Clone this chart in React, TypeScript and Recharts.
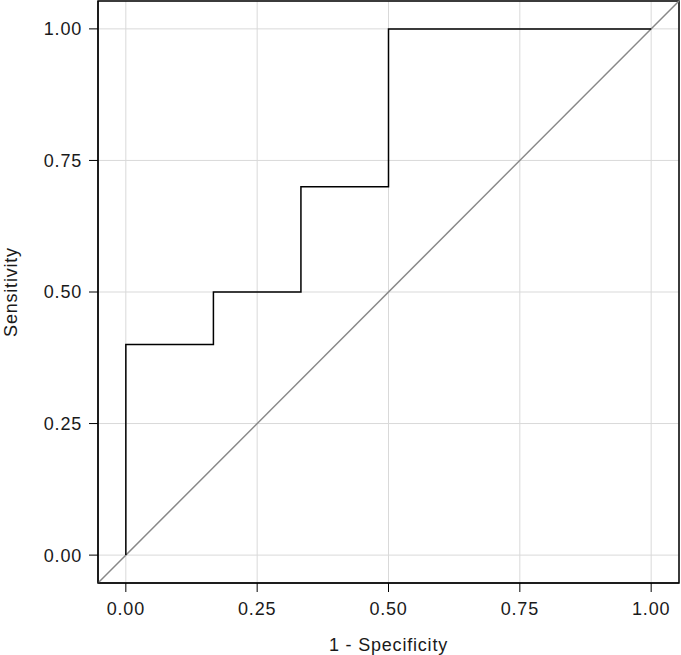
import {
  LineChart,
  Line,
  XAxis,
  YAxis,
  CartesianGrid,
  ReferenceLine,
  ReferenceArea,
  Label,
} from "recharts";

/* ---------------- ROC data ---------------- */

const FPR = [0, 0, 0.1667, 0.1667, 0.3333, 0.3333, 0.5, 0.5, 1];
const TPR = [0, 0.4, 0.4, 0.5, 0.5, 0.7, 0.7, 1, 1];
const TICKS = [0, 0.25, 0.5, 0.75, 1];

const rocData = FPR.map((x, i) => ({ x, y: TPR[i] }));

const FONT = "'Liberation Sans', Arial, sans-serif";
const textStyle = { fontSize: 18, fill: "#1a1a1a", fontFamily: FONT, letterSpacing: 0.8 };

export default function App() {
  return (
    <div style={{ position: "absolute", left: 0, top: 0, background: "#fff" }}>
      <LineChart
        width={681}
        height={655}
        data={rocData}
        margin={{ top: 1, right: 2, left: 0, bottom: 0 }}
      >
        <CartesianGrid stroke="#d9d9d9" strokeWidth={1} />
        <XAxis
          type="number"
          dataKey="x"
          domain={[-0.053, 1.053]}
          ticks={TICKS}
          tickFormatter={(v: number) => v.toFixed(2)}
          tick={textStyle}
          tickSize={9}
          tickMargin={10}
          stroke="#000"
          height={72}
        >
          <Label
            value="1 - Specificity"
            position="insideBottom"
            offset={4}
            style={textStyle}
          />
        </XAxis>
        <YAxis
          type="number"
          dataKey="y"
          domain={[-0.053, 1.053]}
          ticks={TICKS}
          tickFormatter={(v: number) => v.toFixed(2)}
          tick={textStyle}
          tickSize={9}
          tickMargin={7}
          stroke="#000"
          width={98}
        >
          <Label
            value="Sensitivity"
            angle={-90}
            position="insideLeft"
            offset={11}
            style={{ ...textStyle, textAnchor: "middle" }}
          />
        </YAxis>
        <ReferenceLine
          segment={[
            { x: -0.053, y: -0.053 },
            { x: 1.053, y: 1.053 },
          ]}
          stroke="#888"
          strokeWidth={1.5}
        />
        <ReferenceArea
          x1={-0.053}
          x2={1.053}
          y1={-0.053}
          y2={1.053}
          fill="none"
          stroke="#000"
          strokeWidth={1.5}
        />
        <Line
          type="linear"
          dataKey="y"
          stroke="#000"
          strokeWidth={1.5}
          dot={false}
          isAnimationActive={false}
        />
      </LineChart>
    </div>
  );
}
